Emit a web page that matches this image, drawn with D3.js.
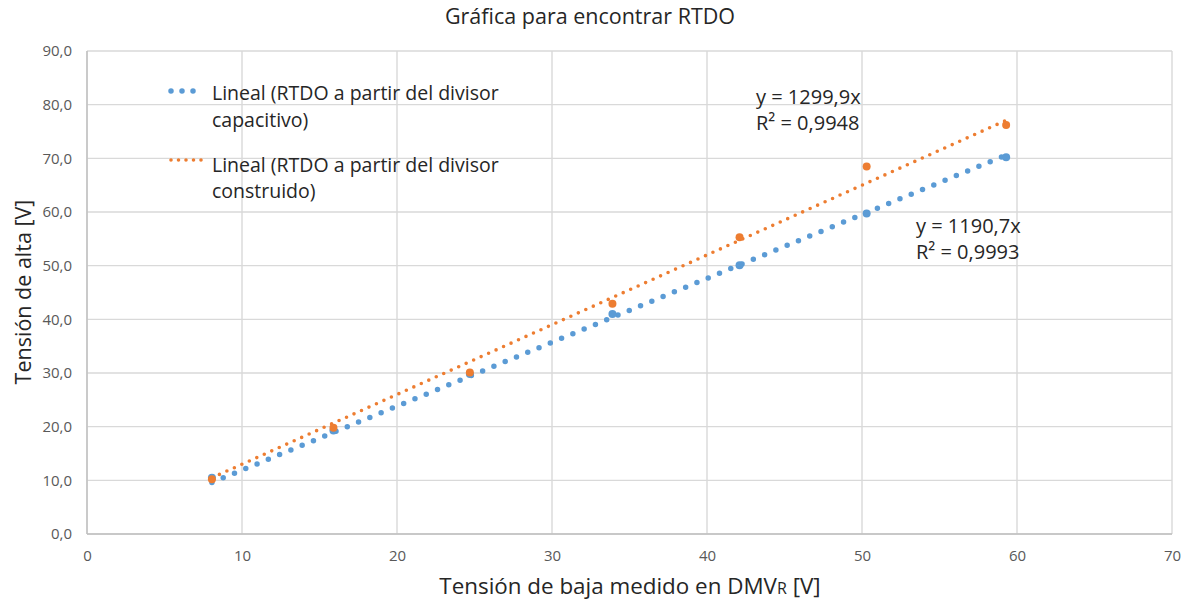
<!DOCTYPE html>
<html>
<head>
<meta charset="utf-8">
<script src="https://cdn.jsdelivr.net/npm/d3@7"></script>
<style>
  html, body { margin: 0; padding: 0; background: #fff; }
  svg { display: block; font-family: "Open Sans", "Noto Sans", sans-serif; }
</style>
</head>
<body>
<svg id="chart" width="1196" height="601"></svg>
<script>
// ---- data ----
const xCapacitivo = [8.06, 15.9, 24.7, 33.9, 42.1, 50.3, 59.3];
const yCapacitivo = [10.5, 19.3, 29.8, 41.0, 50.1, 59.7, 70.2];
const xConstruido = [8.06, 15.9, 24.7, 33.9, 42.1, 50.3, 59.3];
const yConstruido = [10.2, 19.8, 30.1, 42.9, 55.3, 68.5, 76.2];
const seriesNames = ["Lineal (RTDO a partir del divisor|capacitivo)", "Lineal (RTDO a partir del divisor|construido)"];
const trendCoefficients = [1190.7, 1299.9];   // as shown in the equations
const trendR2 = ["0,9993", "0,9948"];
const equationLabels = ["y = 1190,7x", "y = 1299,9x"];
const xTicks = [0, 10, 20, 30, 40, 50, 60, 70];
const yTicks = [0, 10, 20, 30, 40, 50, 60, 70, 80, 90];
const yTickLabels = ["0,0", "10,0", "20,0", "30,0", "40,0", "50,0", "60,0", "70,0", "80,0", "90,0"];
const chartTitle = "Gráfica para encontrar RTDO";
const yTitle = "Tensión de alta [V]";
const colors = ["#5b9bd5", "#ed7d31"];

// ---- layout ----
const svg = d3.select("#chart");
const m = { left: 87, right: 1172, top: 51, bottom: 534 };
const x = d3.scaleLinear().domain([0, 70]).range([m.left, m.right]);
const y = d3.scaleLinear().domain([0, 90]).range([m.bottom, m.top]);
const textColor = "#262626";

// gridlines
svg.append("g").selectAll("line").data(yTicks).join("line")
  .attr("x1", m.left).attr("x2", m.right)
  .attr("y1", d => y(d)).attr("y2", d => y(d))
  .attr("stroke", "#d9d9d9").attr("stroke-width", 1.4);
svg.append("g").selectAll("line").data(xTicks).join("line")
  .attr("x1", d => x(d)).attr("x2", d => x(d))
  .attr("y1", m.top).attr("y2", m.bottom)
  .attr("stroke", "#d9d9d9").attr("stroke-width", 1.4);
// axis lines
svg.append("line").attr("x1", m.left).attr("x2", m.left).attr("y1", m.top).attr("y2", m.bottom)
  .attr("stroke", "#bfbfbf").attr("stroke-width", 1.4);
svg.append("line").attr("x1", m.left).attr("x2", m.right).attr("y1", m.bottom).attr("y2", m.bottom)
  .attr("stroke", "#bfbfbf").attr("stroke-width", 1.4);

// tick labels via axes
const yAxis = d3.axisLeft(y).tickValues(yTicks).tickFormat((d, i) => yTickLabels[i]).tickSize(0).tickPadding(15);
const gy = svg.append("g").attr("transform", `translate(${m.left},0)`).call(yAxis);
gy.select(".domain").remove();
gy.selectAll("text").attr("font-size", 15).attr("fill", "#595959").attr("font-family", "Open Sans");

const xAxis = d3.axisBottom(x).tickValues(xTicks).tickFormat(d => d).tickSize(0).tickPadding(16);
const gx = svg.append("g").attr("transform", `translate(0,${m.bottom})`).call(xAxis);
gx.select(".domain").remove();
gx.selectAll("text").attr("font-size", 15).attr("fill", "#595959").attr("font-family", "Open Sans");

// trendlines
const seriesX = [xCapacitivo, xConstruido];
const seriesY = [yCapacitivo, yConstruido];
const dotStyles = [{ w: 5.5, gap: 12.2 }, { w: 3.6, gap: 8.2 }];
const line = d3.line().x(d => x(d[0])).y(d => y(d[1]));
[0, 1].forEach(i => {
  const xs = seriesX[i];
  const k = trendCoefficients[i] / 1000;
  const pts = [[d3.min(xs), d3.min(xs) * k], [d3.max(xs), d3.max(xs) * k]];
  svg.append("path").datum(pts).attr("d", line)
    .attr("fill", "none").attr("stroke", colors[i])
    .attr("stroke-width", dotStyles[i].w).attr("stroke-linecap", "round")
    .attr("stroke-dasharray", `0 ${dotStyles[i].gap}`);
});

// markers
[0, 1].forEach(i => {
  svg.append("g").selectAll("circle").data(d3.zip(seriesX[i], seriesY[i])).join("circle")
    .attr("cx", d => x(d[0])).attr("cy", d => y(d[1])).attr("r", 4)
    .attr("fill", colors[i]);
});

// equation labels
const eqPos = [{ x: 916, y: 233 }, { x: 756, y: 104 }];
[0, 1].forEach(i => {
  const t = svg.append("text").attr("x", eqPos[i].x).attr("y", eqPos[i].y)
    .attr("font-size", 20).attr("fill", textColor);
  t.append("tspan").attr("x", eqPos[i].x).attr("dy", 0).text(equationLabels[i]);
  t.append("tspan").attr("x", eqPos[i].x).attr("dy", 26).text("R² = " + trendR2[i]);
});

// legend
const legMarkY = [91, 160];
const legTextY = [100, 171.5];
[0, 1].forEach(i => {
  svg.append("line").attr("x1", 171).attr("x2", i === 0 ? 200 : 206)
    .attr("y1", legMarkY[i]).attr("y2", legMarkY[i])
    .attr("stroke", colors[i]).attr("stroke-width", dotStyles[i].w).attr("stroke-linecap", "round")
    .attr("stroke-dasharray", `0 ${i === 0 ? 11 : 7.5}`);
  const parts = seriesNames[i].split("|");
  const t = svg.append("text").attr("x", 212).attr("y", legTextY[i])
    .attr("font-size", 19.5).attr("fill", textColor);
  t.append("tspan").attr("x", 212).attr("dy", 0).text(parts[0]);
  t.append("tspan").attr("x", 212).attr("dy", 26.5).text(parts[1]);
});

// title
svg.append("text").attr("x", 590).attr("y", 24).attr("text-anchor", "middle")
  .attr("font-size", 21.5).attr("fill", textColor).text(chartTitle);

// axis titles
svg.append("text").attr("transform", "translate(31,292) rotate(-90)").attr("text-anchor", "middle")
  .attr("font-size", 21.5).attr("fill", textColor).text(yTitle);

const xt = svg.append("text").attr("x", 630).attr("y", 594).attr("text-anchor", "middle")
  .attr("font-size", 22.4).attr("fill", textColor);
xt.append("tspan").text("Tensión de baja medido en DMV");
xt.append("tspan").attr("font-size", 16).text("R");
xt.append("tspan").text(" [V]");
</script>
</body>
</html>
